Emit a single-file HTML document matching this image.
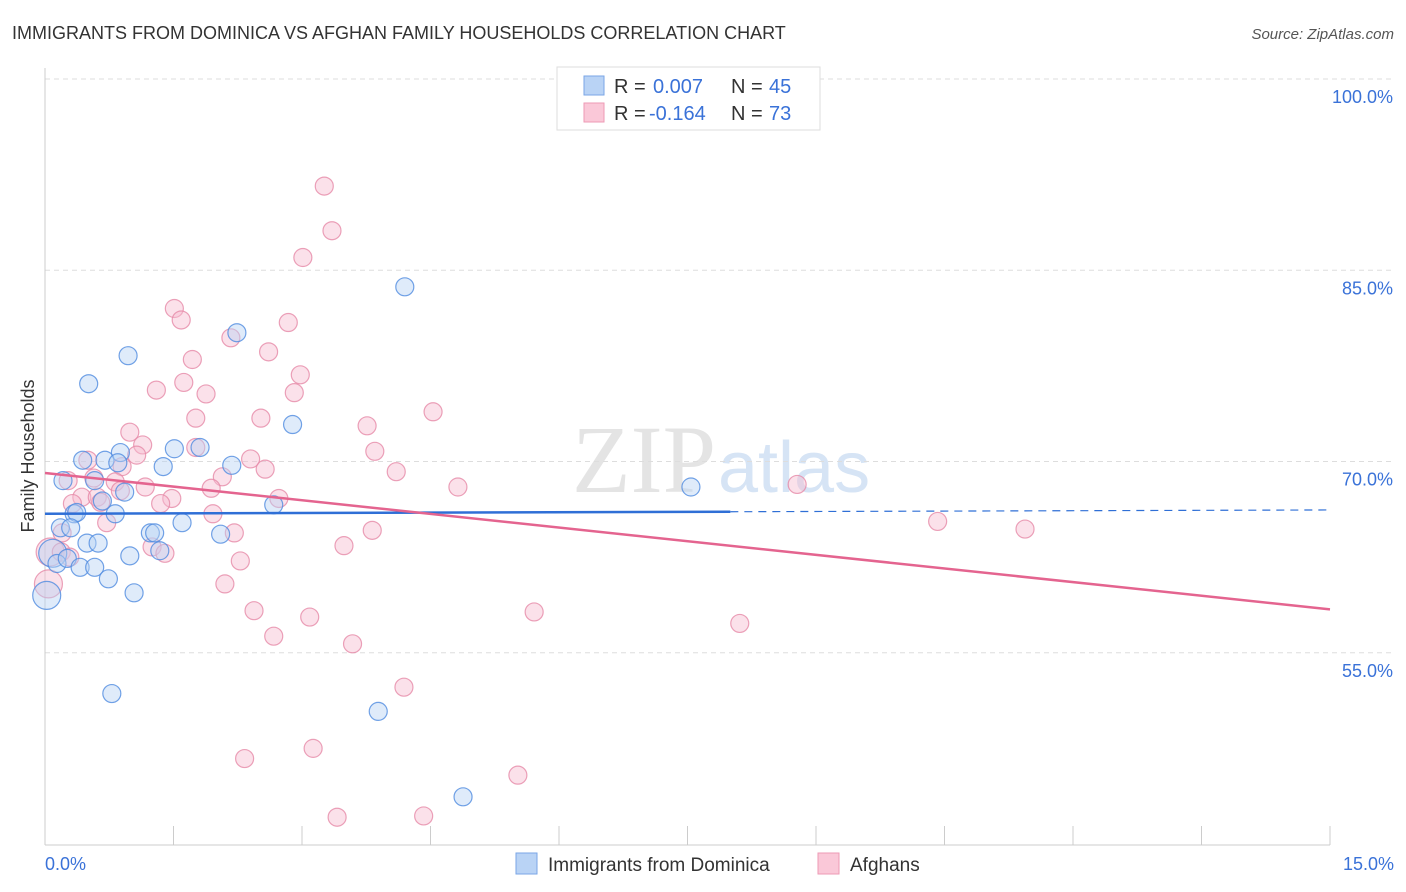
<!DOCTYPE html>
<html><head><meta charset="utf-8">
<style>
body{margin:0;background:#fff;font-family:"Liberation Sans",sans-serif;}
svg{display:block}
</style></head>
<body>
<svg id="chart" width="1406" height="892">
<text x="12" y="39" font-size="18" fill="#333">IMMIGRANTS FROM DOMINICA VS AFGHAN FAMILY HOUSEHOLDS CORRELATION CHART</text>
<text x="1394" y="39" font-size="15" fill="#555" font-style="italic" text-anchor="end">Source: ZipAtlas.com</text>
<text x="716" y="492" font-size="96" fill="#e4e4e4" text-anchor="end" font-family="Liberation Serif,serif">ZIP</text>
<text x="718" y="492" font-size="72" fill="#d6e4f5">atlas</text>
<g id="grid"></g>
<g id="axes"></g>
<g id="pts"></g>
<g id="lines"></g>
<text transform="translate(34,456) rotate(-90)" font-size="18" fill="#333" text-anchor="middle">Family Households</text>
<g>
<rect x="557" y="67" width="263" height="63" fill="#fff" stroke="#ddd"/>
<rect x="584" y="76" width="20" height="19" fill="#b9d3f5" stroke="#7aa6e6"/>
<rect x="584" y="103" width="20" height="19" fill="#fac8d8" stroke="#ee9ab5"/>
<text x="614" y="93" font-size="20" fill="#333">R = <tspan x="653" fill="#3a72d8">0.007</tspan><tspan x="731">N = </tspan><tspan x="769" fill="#3a72d8">45</tspan></text>
<text x="614" y="120" font-size="20" fill="#333">R = <tspan x="649" fill="#3a72d8">-0.164</tspan><tspan x="731">N = </tspan><tspan x="769" fill="#3a72d8">73</tspan></text>
</g>
<g>
<rect x="516" y="853" width="21" height="21" fill="#b9d3f5" stroke="#7aa6e6"/>
<text x="548" y="871" font-size="19" fill="#333">Immigrants from Dominica</text>
<rect x="818" y="853" width="21" height="21" fill="#fac8d8" stroke="#ee9ab5"/>
<text x="850" y="871" font-size="19" fill="#333">Afghans</text>
</g>
</svg>
<script>
const blueX=[4.20,2.24,0.97,0.51,2.89,1.81,1.51,0.88,0.44,0.70,1.38,2.18,0.85,0.21,0.58,0.93,0.67,7.54,0.34,0.37,0.82,2.67,0.18,0.30,1.60,1.23,1.28,2.05,0.49,0.62,1.34,0.99,0.09,0.14,0.26,0.41,0.58,0.74,1.04,0.02,0.78,3.89,4.88];
const blueY=[83.7,80.1,78.3,76.1,72.9,71.1,71.0,70.7,70.1,70.1,69.6,69.7,69.9,68.5,68.5,67.6,66.9,68.0,65.9,66.0,65.9,66.6,64.8,64.8,65.2,64.4,64.4,64.3,63.6,63.6,63.0,62.6,62.8,62.0,62.4,61.7,61.7,60.8,59.7,59.5,51.8,50.4,43.7];
const pinkX=[3.26,3.35,3.01,1.51,1.59,2.84,2.17,2.61,1.72,2.98,1.62,1.30,1.88,2.91,4.53,1.76,2.52,3.76,0.99,1.14,1.76,3.85,1.07,2.40,0.50,0.90,2.57,4.10,2.07,0.27,0.57,1.17,0.82,1.94,4.82,8.78,1.48,0.43,0.61,0.65,0.32,1.35,2.73,0.88,1.96,0.72,10.42,11.44,3.82,2.21,0.20,3.49,1.25,1.40,0.06,0.19,0.29,2.28,2.10,0.04,2.44,5.71,3.09,8.11,2.67,3.59,4.19,3.13,2.33,5.52,3.41,4.42];
const pinkY=[91.6,88.1,86.0,82.0,81.1,80.9,79.7,78.6,78.0,76.8,76.2,75.6,75.3,75.4,73.9,73.4,73.4,72.8,72.3,71.3,71.1,70.8,70.5,70.2,70.1,69.6,69.4,69.2,68.8,68.5,68.7,68.0,68.4,67.9,68.0,68.2,67.1,67.2,67.2,66.8,66.7,66.7,67.1,67.7,65.9,65.2,65.3,64.7,64.6,64.4,64.4,63.4,63.3,62.8,62.9,62.9,62.5,62.2,60.4,60.4,58.3,58.2,57.8,57.3,56.3,55.7,52.3,47.5,46.7,45.4,42.1,42.2];
const blueTrend=[65.9,66.2];
const pinkTrend=[69.1,58.4];
const yTicks=[100,85,70,55];
const yTickLabels=["100.0%","85.0%","70.0%","55.0%"];
const xTickLabels=["0.0%","15.0%"];
const NS="http://www.w3.org/2000/svg";
const X=v=>45+v/15*1285, Y=v=>79+(100-v)*12.75;
function mk(p,t,a){const e=document.createElementNS(NS,t);for(const k in a)e.setAttribute(k,a[k]);document.getElementById(p).appendChild(e);return e;}
yTicks.forEach((t,i)=>{
 const g=mk('grid','line',{x1:45,x2:1394,y1:Y(t),y2:Y(t),stroke:'#ddd','stroke-dasharray':'5,4'});
 
 
 const l=mk('axes','text',{x:1393,y:Y(t)+24,'font-size':18,fill:'#3a72d8','text-anchor':'end'});
 l.textContent=yTickLabels[i];
 
 
});
mk('axes','line',{x1:45,x2:45,y1:68,y2:845,stroke:'#ccc'});
mk('axes','line',{x1:45,x2:1330,y1:845,y2:845,stroke:'#ccc'});
for(let i=0;i<=10;i++){const t=mk('axes','line',{x1:X(i*1.5),x2:X(i*1.5),y1:826,y2:845,stroke:'#ccc'});
 
 }
[[45,'start',0],[1394,'end',1]].forEach(([x,a,i])=>{const l=mk('axes','text',{x:x,y:870,'font-size':18,fill:'#3a72d8','text-anchor':a});l.textContent=xTickLabels[i];
 
 });
function pts(xs,ys,fill,stroke,name){xs.forEach((x,i)=>{const big=x<0.1;
 const c=mk('pts','circle',{cx:X(x),cy:Y(ys[i]),r:big?14:9,fill:fill,'fill-opacity':0.45,stroke:stroke,'stroke-width':1.2,'stroke-opacity':0.8});
 
 });}
pts(pinkX,pinkY,'#f7bcd0','#e68aa8','afghans-point');
pts(blueX,blueY,'#b9d3f5','#4f8be0','dominica-point');
const bx=8.0, bMid=blueTrend[0]+(blueTrend[1]-blueTrend[0])*bx/15;
let e=mk('lines','line',{x1:X(0),y1:Y(blueTrend[0]),x2:X(bx),y2:Y(bMid),stroke:'#2f6fd6','stroke-width':2.5});


e=mk('lines','line',{x1:X(bx),y1:Y(bMid),x2:X(15),y2:Y(blueTrend[1]),stroke:'#2f6fd6','stroke-width':1.2,'stroke-dasharray':'8,6'});


e=mk('lines','line',{x1:X(0),y1:Y(pinkTrend[0]),x2:X(15),y2:Y(pinkTrend[1]),stroke:'#e4648f','stroke-width':2.5});


</script>
</body></html>
